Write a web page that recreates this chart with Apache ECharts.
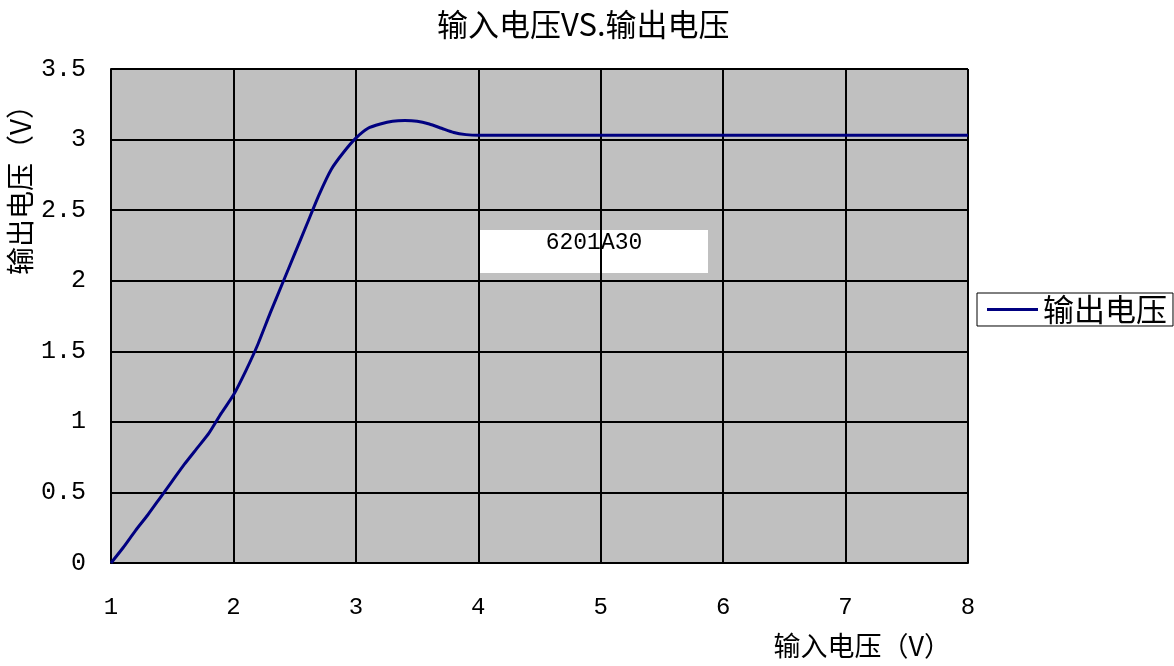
<!DOCTYPE html>
<html>
<head>
<meta charset="utf-8">
<script src="https://cdn.jsdelivr.net/npm/echarts@6/dist/echarts.min.js"></script>
<style>
  html, body { margin: 0; padding: 0; background: #ffffff; }
  #chart { width: 1174px; height: 666px; }
</style>
</head>
<body>
<div id="chart"></div>
<script>
// Input voltage (V) sweep points
const inputVoltage = [
  1.0, 1.1, 1.2, 1.3, 1.4, 1.5, 1.6, 1.7, 1.8, 1.9,
  2.0, 2.1, 2.2, 2.3, 2.4, 2.5, 2.6, 2.7, 2.8, 2.9,
  3.0, 3.1, 3.2, 3.3, 3.4, 3.5, 3.6, 3.7, 3.8, 3.9,
  4.0, 5.0, 6.0, 7.0, 8.0
];
// Measured output voltage (V) of the 6201A30 regulator
const outputVoltage = [
  0.00, 0.11, 0.23, 0.34, 0.46, 0.58, 0.70, 0.81, 0.92, 1.06,
  1.19, 1.36, 1.55, 1.77, 1.98, 2.19, 2.40, 2.61, 2.79, 2.91,
  3.01, 3.08, 3.11, 3.13, 3.135, 3.13, 3.11, 3.08, 3.05, 3.035,
  3.03, 3.03, 3.03, 3.03, 3.03
];
const xTicks = { min: 1, max: 8, step: 1 };
const yTicks = { min: 0, max: 3.5, step: 0.5 };

const chartTitle = '输入电压VS.输出电压';
const seriesName = '输出电压';
const xAxisTitle = '输入电压（V）';
const yAxisTitle = '输出电压（V）';
const partLabel = '6201A30';

const cjkFont = '"Noto Sans CJK SC", sans-serif';
const monoFont = '"Liberation Mono", "DejaVu Sans Mono", monospace';

const points = inputVoltage.map((x, i) => [x, outputVoltage[i]]);

const chart = echarts.init(document.getElementById('chart'), null, { renderer: 'canvas' });

chart.setOption({
  backgroundColor: '#ffffff',
  animation: false,
  title: {
    text: chartTitle,
    left: 432,
    top: 4,
    textStyle: { fontFamily: cjkFont, fontSize: 31, fontWeight: 'normal', color: '#000' }
  },
  grid: {
    left: 111, right: 206, top: 69, bottom: 103,
    show: true,
    backgroundColor: '#c0c0c0',
    borderColor: '#808080',
    borderWidth: 1
  },
  legend: {
    orient: 'vertical',
    left: 977,
    top: 293,
    padding: [1, 6, 1, 10],
    backgroundColor: '#ffffff',
    borderColor: '#000',
    borderWidth: 1,
    itemWidth: 51,
    itemHeight: 3,
    itemGap: 0,
    textStyle: { fontFamily: cjkFont, fontSize: 31, lineHeight: 30, color: '#000' },
    data: [{ name: seriesName, icon: 'rect' }]
  },
  xAxis: {
    type: 'value',
    min: xTicks.min,
    max: xTicks.max,
    interval: xTicks.step,
    name: xAxisTitle,
    nameLocation: 'end',
    nameGap: -17,
    nameTextStyle: {
      fontFamily: cjkFont, fontSize: 27, color: '#000',
      align: 'right', verticalAlign: 'top', padding: [69, 0, 0, 0]
    },
    axisLine: { show: true, lineStyle: { color: '#000', width: 2 } },
    axisTick: { show: false },
    axisLabel: { margin: 33, color: '#000', fontFamily: monoFont, fontSize: 24 },
    splitLine: { show: true, lineStyle: { color: '#000', width: 2 } }
  },
  yAxis: {
    type: 'value',
    min: yTicks.min,
    max: yTicks.max,
    interval: yTicks.step,
    axisLine: { show: true, lineStyle: { color: '#000', width: 2 } },
    axisTick: { show: false },
    axisLabel: { margin: 25, color: '#000', fontFamily: monoFont, fontSize: 25 },
    splitLine: { show: true, lineStyle: { color: '#000', width: 2 } }
  },
  graphic: [
    {
      type: 'text',
      x: 20,
      y: 183,
      rotation: Math.PI / 2,
      style: {
        text: yAxisTitle, fontFamily: cjkFont, fontSize: 28, fill: '#000',
        align: 'center', verticalAlign: 'middle'
      }
    },
    {
      type: 'group',
      left: 480,
      top: 230,
      children: [
        { type: 'rect', shape: { x: 0, y: 0, width: 228, height: 43 }, style: { fill: '#ffffff' } },
        {
          type: 'text', x: 114, y: 13,
          style: { text: partLabel, fontFamily: monoFont, fontSize: 23, fill: '#000', align: 'center', verticalAlign: 'middle' }
        }
      ]
    }
  ],
  series: [{
    name: seriesName,
    type: 'line',
    data: points,
    smooth: 0.2,
    symbol: 'none',
    lineStyle: { color: '#000080', width: 3 },
    itemStyle: { color: '#000080' }
  }]
});
</script>
</body>
</html>
